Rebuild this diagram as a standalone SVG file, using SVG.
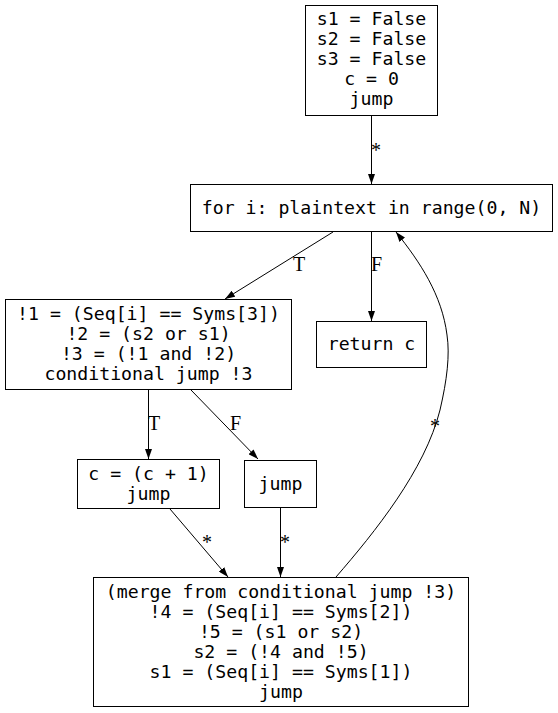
<svg xmlns="http://www.w3.org/2000/svg" width="558" height="713" viewBox="0 0 558 713">
<defs>
<marker id="arr" markerUnits="userSpaceOnUse" markerWidth="10" markerHeight="7" refX="10" refY="3.5" orient="auto">
<path d="M0,0 L10,3.5 L0,7 z" fill="#000"/>
</marker>
<style>
.box{fill:#fff;stroke:#000;stroke-width:1}
.t{font-family:"DejaVu Sans Mono",monospace;font-size:18.2px;text-anchor:middle;fill:#000}
.e{fill:none;stroke:#000;stroke-width:1;marker-end:url(#arr)}
.l{font-family:"Liberation Serif","Times New Roman",serif;font-size:20px;fill:#000}
</style>
</defs>
<rect width="558" height="713" fill="#fff"/>
<g id="edges">
<path class="e" d="M371.5,116 L371.5,184"/>
<text class="l" x="371" y="157">*</text>
<path class="e" d="M333,232 L225,299"/>
<text class="l" x="293" y="271">T</text>
<path class="e" d="M371.5,232 L371.5,321"/>
<text class="l" x="371" y="271">F</text>
<path class="e" d="M336,577 C375,532 425,470 440,410 C447,380 450,355 447,335 C442,295 420,262 396,232"/>
<text class="l" x="430" y="433">*</text>
<path class="e" d="M148.5,390 L148.5,459"/>
<text class="l" x="148" y="430">T</text>
<path class="e" d="M191,390 L258,459"/>
<text class="l" x="230" y="430">F</text>
<path class="e" d="M170,509 L228,577"/>
<text class="l" x="202" y="549">*</text>
<path class="e" d="M280.5,508 L280.5,577"/>
<text class="l" x="280" y="549">*</text>
</g>
<g id="n0">
<rect class="box" x="305.5" y="5.5" width="132" height="110"/>
<text class="t" x="371.5" y="25">s1 = False</text>
<text class="t" x="371.5" y="45">s2 = False</text>
<text class="t" x="371.5" y="65">s3 = False</text>
<text class="t" x="371.5" y="85">c = 0</text>
<text class="t" x="371.5" y="105">jump</text>
</g>
<g id="n1">
<rect class="box" x="190.5" y="184.5" width="362" height="47"/>
<text class="t" x="371.5" y="214">for i: plaintext in range(0, N)</text>
</g>
<g id="n2">
<rect class="box" x="5.5" y="299.5" width="286" height="90"/>
<text class="t" x="148.5" y="320">!1 = (Seq[i] == Syms[3])</text>
<text class="t" x="148.5" y="340">!2 = (s2 or s1)</text>
<text class="t" x="148.5" y="360">!3 = (!1 and !2)</text>
<text class="t" x="148.5" y="380">conditional jump !3</text>
</g>
<g id="n3">
<rect class="box" x="316.5" y="321.5" width="110" height="46"/>
<text class="t" x="371.5" y="350">return c</text>
</g>
<g id="n4">
<rect class="box" x="77.5" y="459.5" width="142" height="49"/>
<text class="t" x="148.5" y="479.5">c = (c + 1)</text>
<text class="t" x="148.5" y="499.5">jump</text>
</g>
<g id="n5">
<rect class="box" x="244.5" y="460.5" width="72" height="47"/>
<text class="t" x="280.5" y="489.5">jump</text>
</g>
<g id="n6">
<rect class="box" x="93.5" y="577.5" width="375" height="129"/>
<text class="t" x="281" y="597.5">(merge from conditional jump !3)</text>
<text class="t" x="281" y="617.5">!4 = (Seq[i] == Syms[2])</text>
<text class="t" x="281" y="637.5">!5 = (s1 or s2)</text>
<text class="t" x="281" y="657.5">s2 = (!4 and !5)</text>
<text class="t" x="281" y="677.5">s1 = (Seq[i] == Syms[1])</text>
<text class="t" x="281" y="697.5">jump</text>
</g>
</svg>
